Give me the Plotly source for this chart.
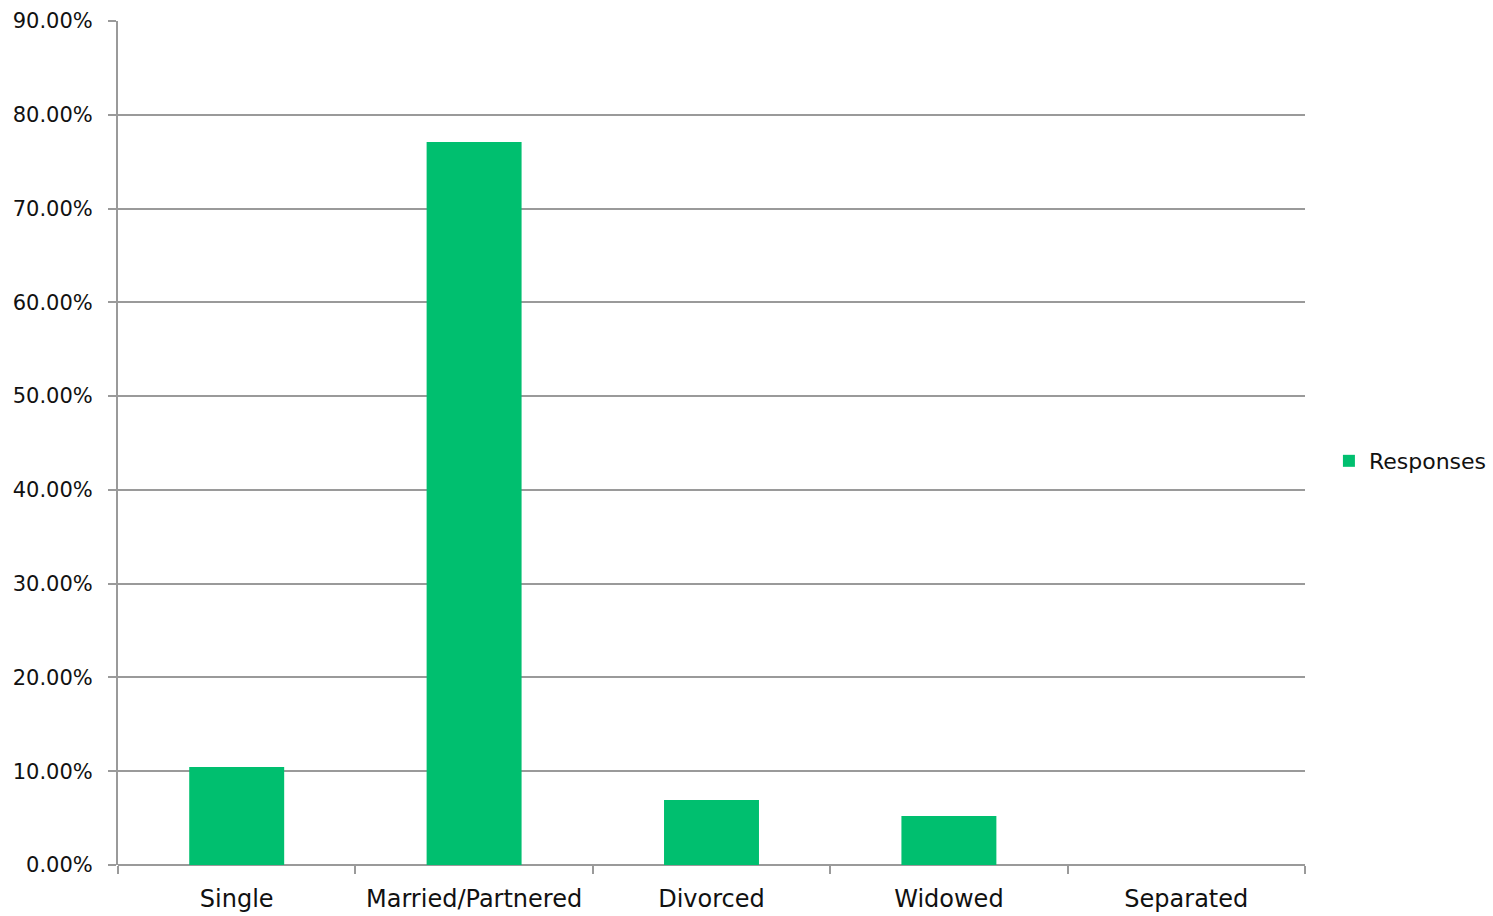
import plotly.graph_objects as go

categories = ["Single", "Married/Partnered", "Divorced", "Widowed", "Separated"]
values = [10.45, 77.1, 6.93, 5.22, 0.0]
y_ticks = [0, 10, 20, 30, 40, 50, 60, 70, 80, 90]
y_labels = ["%.2f%%" % v for v in y_ticks]

font_family = "DejaVu Sans"
grid_color = "#9a9a9a"

fig = go.Figure()
fig.add_trace(go.Bar(
    x=categories, y=values, name="Responses",
    marker=dict(color="#00BF6F", line=dict(width=0)),
    showlegend=True,
))

fig.update_layout(
    width=1493, height=916,
    margin=dict(l=118, r=188, t=21, b=51, autoexpand=False),
    plot_bgcolor="white", paper_bgcolor="white",
    bargap=0.6,
    font=dict(family=font_family, size=21, color="#111111"),
    legend=dict(xref="container", yref="container", x=0.8901, y=0.4967,
                xanchor="left", yanchor="middle",
                font=dict(size=22), itemwidth=30),
    xaxis=dict(
        type="category", tickson="boundaries", ticks="outside", ticklen=8,
        tickcolor=grid_color, tickwidth=2, showgrid=False, automargin=False,
        showline=False, tickfont=dict(size=24), ticklabelstandoff=17,
    ),
    yaxis=dict(
        range=[0, 90], tickvals=y_ticks, ticktext=y_labels, automargin=False,
        ticks="outside", ticklen=8, tickcolor=grid_color, tickwidth=2,
        showgrid=True, gridcolor=grid_color, gridwidth=2,
        showline=True, linecolor=grid_color, linewidth=2,
        zeroline=True, zerolinecolor=grid_color, zerolinewidth=2,
        tickfont=dict(size=21), ticklabelstandoff=11,
    ),
)

fig.write_html(
    "out.html",
    config={"displayModeBar": False},
    post_script="document.body.style.margin='0';document.body.style.overflow='hidden';",
)
